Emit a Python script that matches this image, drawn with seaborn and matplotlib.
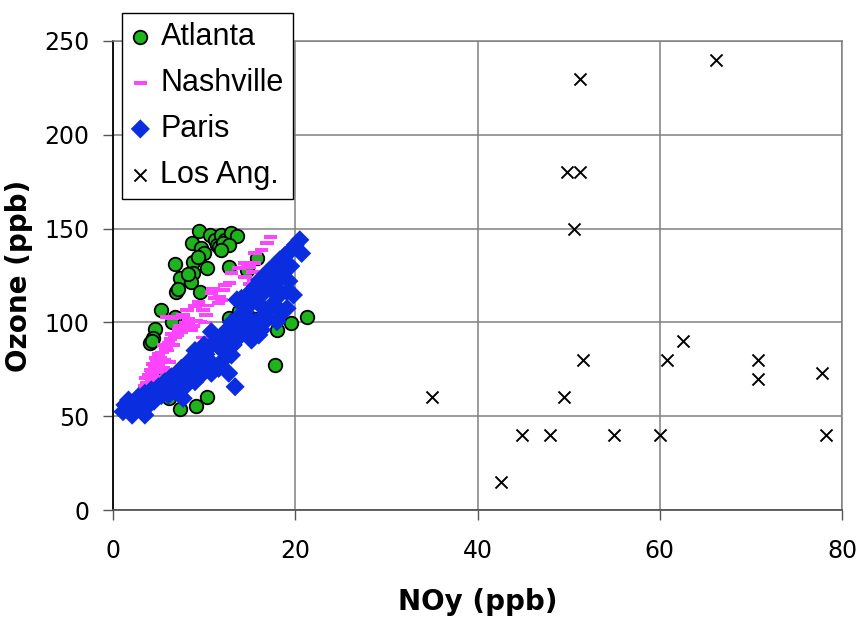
import matplotlib
matplotlib.use("Agg")
import matplotlib.pyplot as plt
import seaborn as sns
import pandas as pd
import numpy as np

# ---------------- data ----------------
atlanta_x = [9.4, 10.6, 8.7, 9.7, 10.0, 6.8, 8.8, 9.3, 10.3, 8.8, 7.4, 8.6, 8.2, 6.9, 7.1, 9.5,
             5.3, 11.2, 11.4, 11.9, 12.3, 13.0, 13.6, 11.6, 12.1, 12.7, 11.9, 12.7, 15.8, 14.7,
             13.8, 12.7, 21.3, 13.4, 18.0, 19.5, 17.8, 4.6, 4.4, 4.1, 6.8, 5.0, 8.6, 8.3, 6.1,
             7.4, 9.1, 10.3, 15.6, 4.3, 6.5, 10.2, 5.7]
atlanta_y = [148.7, 146.6, 142.5, 139.6, 137.2, 131.0, 132.4, 134.7, 128.8, 126.5, 123.5, 121.7,
             125.8, 116.4, 117.6, 116.4, 106.6, 144.0, 141.3, 146.6, 144.0, 147.8, 146.0, 140.4,
             142.2, 141.3, 138.6, 129.7, 134.2, 128.0, 106.2, 102.2, 103.0, 101.8, 96.0, 99.5,
             77.3, 96.5, 91.5, 88.8, 103.0, 66.6, 71.0, 70.0, 59.5, 53.8, 55.6, 60.0, 102.0,
             90.0, 100.0, 79.0, 72.0]

nashville_x = [3.5, 3.7, 3.6, 3.9, 4.1, 4.3, 4.6, 4.4, 4.8, 5.0, 5.2, 5.0, 5.4, 5.6, 5.8, 5.6,
               6.0, 6.1, 6.3, 6.6, 6.8, 6.5, 7.0, 7.2, 7.5, 7.3, 7.8, 8.0, 8.3, 8.6, 8.8, 9.1,
               5.9, 6.5, 7.1, 7.7, 8.3, 4.9, 5.3, 4.2, 3.8, 3.6, 9.6, 10.1, 9.9, 6.2, 5.5, 4.7,
               8.1, 9.0, 9.4, 9.9, 10.3, 10.8, 11.2, 11.6, 11.9, 11.7, 12.1, 12.3, 13.0, 13.8,
               14.5, 14.9, 15.5, 15.3, 14.5, 15.4, 15.6, 16.3, 16.9, 17.3, 11.0, 10.2, 12.8,
               16.0, 15.0]
nashville_y = [66.0, 68.0, 70.5, 72.0, 74.5, 73.0, 76.0, 78.0, 79.0, 77.0, 81.0, 83.0, 84.0,
               80.0, 86.0, 88.0, 85.0, 89.0, 91.0, 88.0, 92.0, 94.0, 93.0, 96.0, 95.0, 98.0,
               97.0, 100.0, 99.0, 96.0, 98.0, 101.0, 103.0, 102.5, 103.0, 104.0, 102.0, 71.0,
               73.5, 69.0, 64.0, 62.5, 100.5, 100.0, 92.0, 79.0, 75.5, 81.0,
               106.6, 108.7, 111.0, 106.6, 109.0, 115.8, 112.8, 110.2, 112.0, 113.7, 117.3,
               120.0, 126.2, 128.8, 131.8, 129.7, 131.8, 127.0, 124.4, 122.6, 136.8, 138.6,
               142.2, 145.7, 118.0, 104.0, 121.0, 127.0, 120.5]

paris_x = [1.1, 1.3, 1.7, 2.1, 2.8, 3.2, 3.5, 3.5, 3.9, 4.2, 4.5, 5.0, 5.3, 5.7, 6.1, 6.4, 6.8,
           7.0, 7.5, 7.7, 7.9, 8.3, 8.5, 9.0, 9.4, 9.7, 9.9, 10.5, 10.2, 10.8, 10.8, 11.2, 11.2,
           11.6, 11.6, 11.9, 12.3, 12.0, 12.7, 13.0, 13.4, 13.4, 13.2, 13.6, 14.1, 14.1, 14.5,
           14.9, 14.9, 15.0, 15.2, 15.6, 15.6, 15.8, 16.0, 16.1, 16.3, 16.5, 16.7, 17.2, 17.2,
           17.6, 17.8, 18.0, 18.1, 18.3, 18.5, 18.5, 18.9, 19.1, 19.1, 19.4, 19.8, 20.0, 20.5,
           20.7, 14.0, 13.0, 12.5, 11.9, 10.0, 9.0, 8.0, 7.2, 6.7, 6.0, 4.8, 3.0, 2.3, 16.8,
           17.5, 18.8, 19.5, 16.0, 15.3, 14.6, 13.8, 12.8, 10.5, 9.5, 8.7, 7.5, 19.3, 18.0,
           17.0, 16.3, 2.0, 3.5, 4.0, 5.5, 6.3]
paris_y = [52.4, 56.0, 58.6, 50.6, 60.4, 52.4, 50.6, 62.2, 56.0, 64.0, 58.0, 65.7, 61.0, 68.4,
           61.3, 71.0, 63.0, 67.0, 75.5, 59.5, 65.7, 79.0, 72.0, 68.4, 82.6, 72.0, 78.0, 86.2,
           83.0, 95.0, 72.9, 89.7, 75.5, 89.7, 75.5, 79.0, 93.3, 85.0, 72.9, 82.6, 96.9, 65.7,
           88.0, 112.0, 98.6, 112.8, 105.7, 101.3, 115.5, 109.3, 90.6, 100.4, 119.0, 112.0,
           93.3, 122.6, 102.2, 107.5, 125.3, 128.0, 107.5, 110.2, 130.6, 100.4, 113.7, 133.3,
           124.4, 104.8, 135.9, 116.4, 107.5, 137.7, 114.6, 141.3, 144.0, 136.8, 104.0, 100.0,
           96.0, 92.0, 88.0, 85.0, 77.0, 72.0, 69.0, 66.0, 62.0, 57.0, 55.0, 117.0, 120.0,
           128.0, 130.0, 114.0, 97.0, 95.0, 92.0, 90.0, 80.0, 76.0, 74.0, 70.0, 122.0, 118.0,
           102.0, 96.0, 53.0, 54.0, 60.0, 64.0, 66.0]

la_x = [35.0, 42.6, 44.9, 48.0, 49.5, 49.8, 51.3, 50.6, 51.2, 51.6, 55.0, 60.0, 60.8, 62.6,
        66.2, 70.8, 70.8, 77.8, 78.2]
la_y = [60, 15, 40, 40, 60, 180, 180, 150, 230, 80, 40, 40, 80, 90, 240, 80, 70, 73, 40]

series_names = ["Atlanta", "Nashville", "Paris", "Los Ang."]
x_ticks = [0, 20, 40, 60, 80]
y_ticks = [0, 50, 100, 150, 200, 250]

# ---------------- figure ----------------
sns.set_theme(style="white")
plt.rcParams["font.family"] = ["DejaVu Sans"]

fig = plt.figure(figsize=(8.59, 6.18), dpi=100)
ax = fig.add_axes([113 / 859, 1 - 510 / 618, (842 - 113) / 859, (510 - 41) / 618])

dash = [(-1, -0.28), (1, -0.28), (1, 0.28), (-1, 0.28), (-1, -0.28)]

df_a = pd.DataFrame({"NOy": atlanta_x, "O3": atlanta_y})
df_n = pd.DataFrame({"NOy": nashville_x, "O3": nashville_y})
df_p = pd.DataFrame({"NOy": paris_x, "O3": paris_y})
df_l = pd.DataFrame({"NOy": la_x, "O3": la_y})

sns.scatterplot(data=df_a, x="NOy", y="O3", ax=ax, marker="o", s=95,
                color="#1EB41E", edgecolor="black", linewidth=1.3,
                label=series_names[0], zorder=3)
sns.scatterplot(data=df_n, x="NOy", y="O3", ax=ax, marker=dash, s=95,
                color="#FF44FF", edgecolor="none", linewidth=0,
                label=series_names[1], zorder=4)
sns.scatterplot(data=df_p, x="NOy", y="O3", ax=ax, marker="D", s=95,
                color="#0A2DE0", edgecolor="none", linewidth=0,
                label=series_names[2], zorder=5)
sns.scatterplot(data=df_l, x="NOy", y="O3", ax=ax, marker="x", s=75,
                color="black", linewidth=1.4,
                label=series_names[3], zorder=6)

ax.set_xlim(0, 80)
ax.set_ylim(0, 250)
ax.set_xticks(x_ticks)
ax.set_yticks(y_ticks)
ax.tick_params(axis="both", labelsize=17, direction="out", length=7, width=1,
               color="#555555", labelcolor="black", bottom=True, left=True)
ax.tick_params(axis="x", pad=14)
ax.tick_params(axis="y", pad=10)

ax.grid(True, color="#808080", linewidth=1.1)
ax.set_axisbelow(True)
for side in ["top", "right"]:
    ax.spines[side].set_visible(True)
    ax.spines[side].set_color("#808080")
    ax.spines[side].set_linewidth(1.1)
ax.spines["left"].set_color("black")
ax.spines["left"].set_linewidth(1.3)
ax.spines["bottom"].set_color("#555555")
ax.spines["bottom"].set_linewidth(1.3)

ax.set_xlabel("NOy (ppb)", fontsize=20, fontweight="bold", labelpad=18, color="black")
ax.set_ylabel("Ozone (ppb)", fontsize=20, fontweight="bold", labelpad=8, color="black")

leg = ax.legend(loc="upper left", bbox_to_anchor=(122 / 859, 1 - 13 / 618),
                bbox_transform=fig.transFigure, borderaxespad=0,
                prop={"family": "Liberation Sans", "size": 22},
                frameon=True, fancybox=False, framealpha=1, edgecolor="black",
                handletextpad=0.36, labelspacing=0.52, borderpad=0.3,
                handlelength=0.6, markerscale=1.0)
for t in leg.get_texts():
    t.set_color("black")
leg.get_frame().set_linewidth(1.0)
leg.set_zorder(10)

fig.savefig("out.png", dpi=100)
